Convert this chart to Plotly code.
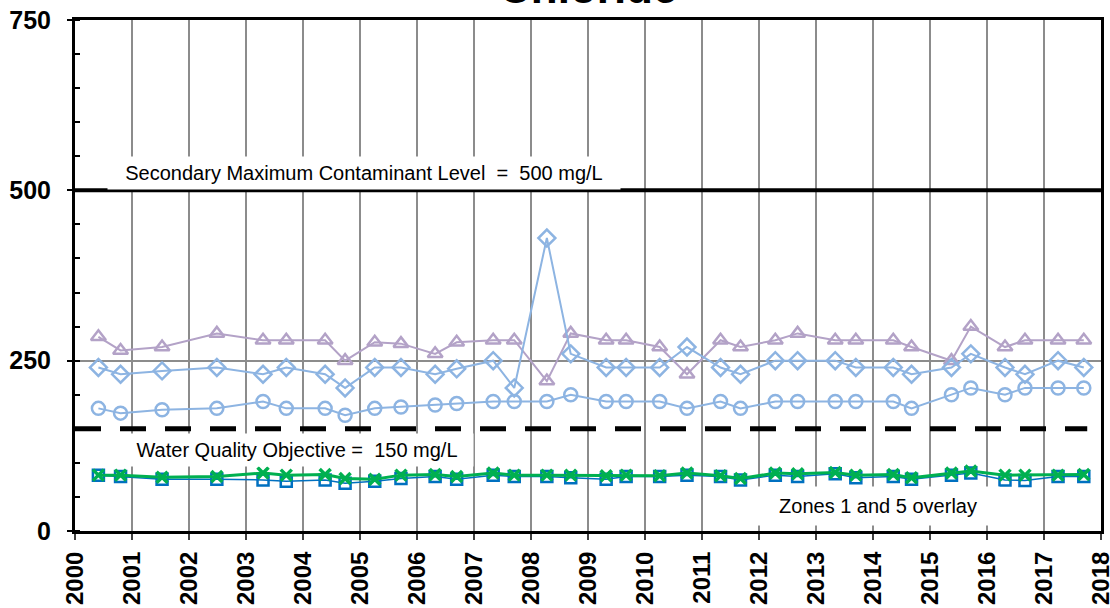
import plotly.graph_objects as go

# sample dates
dates = ["2000-05-30", "2000-10-19", "2001-07-12", "2002-06-28", "2003-04-20", "2003-09-16",
         "2004-05-22", "2004-09-27", "2005-04-05", "2005-09-20", "2006-04-27", "2006-09-12",
         "2007-05-04", "2007-09-16", "2008-04-12", "2008-09-12", "2009-04-27", "2009-09-02",
         "2010-04-05", "2010-09-27", "2011-04-30", "2011-09-05", "2012-04-15", "2012-09-05",
         "2013-05-04", "2013-09-13", "2014-05-11", "2014-09-05", "2015-05-19", "2015-09-20",
         "2016-04-26", "2016-09-01", "2017-04-01", "2017-09-13"]

# chloride, mg/L
triangle_vals = [285, 265, 270, 290, 280, 280, 280, 250, 277, 275, 260, 277,
                 280, 280, 220, 290, 280, 280, 270, 230, 280, 270, 280, 290,
                 280, 280, 280, 270, 250, 300, 270, 280, 280, 280]
diamond_vals = [240, 230, 235, 240, 230, 240, 230, 210, 240, 240, 230, 238,
                250, 210, 430, 260, 240, 240, 240, 270, 240, 230, 250, 250,
                250, 240, 240, 230, 240, 260, 240, 230, 250, 240]
circle_vals = [180, 173, 178, 180, 190, 180, 180, 170, 180, 182, 185, 187,
               190, 190, 190, 200, 190, 190, 190, 180, 190, 180, 190, 190,
               190, 190, 190, 180, 200, 210, 200, 210, 210, 210]
square_vals = [82, 80, 76, 76, 75, 73, 75, 70, 73, 77, 80, 76,
               82, 80, 80, 78, 76, 80, 80, 82, 80, 75, 82, 80,
               84, 78, 80, 76, 82, 85, 75, 74, 80, 80]
x_vals = [82, 82, 79, 80, 85, 82, 83, 77, 76, 82, 83, 80,
          85, 82, 82, 82, 81, 82, 81, 85, 81, 77, 85, 84,
          86, 82, 83, 78, 85, 88, 82, 82, 82, 83]

smcl = 500
wqo = 150
limit_x = ["2000-01-01", "2018-01-01"]
wqo_x = ["2000-01-01", "2017-10-05"]

font = "Arial, Liberation Sans, sans-serif"

fig = go.Figure()

fig.add_trace(go.Scatter(x=limit_x, y=[smcl, smcl], mode="lines",
                         line=dict(color="black", width=4), showlegend=False))
fig.add_trace(go.Scatter(x=wqo_x, y=[wqo, wqo], mode="lines",
                         line=dict(color="black", width=5, dash="26px,19px"), showlegend=False))

series = [
    (triangle_vals, "triangle-up-open", "#B3A2C7", 2, 13),
    (diamond_vals, "diamond-open", "#8DB4E2", 2, 13),
    (circle_vals, "circle-open", "#8DB4E2", 2, 13),
    (square_vals, "square-open", "#0070C0", 1.5, 11),
    (x_vals, "x-thin-open", "#00B050", 3, 11),
]
for vals, sym, col, lw, ms in series:
    fig.add_trace(go.Scatter(
        x=dates, y=vals, mode="lines+markers",
        line=dict(color=col, width=lw),
        marker=dict(symbol=sym, size=ms, color=col,
                    line=dict(color=col, width=3.5 if sym.startswith("x") else 2.5)),
        showlegend=False))

fig.update_layout(
    width=1110, height=608,
    margin=dict(l=75, r=9, t=20, b=77),
    paper_bgcolor="white", plot_bgcolor="white",
    font=dict(family=font, color="black"),
    xaxis=dict(type="date", range=["2000-01-01", "2018-01-01 06:00"], dtick="M12", tick0="2000-01-01",
               tickformat="%Y", tickangle=-90, ticks="outside", ticklen=6, tickwidth=2,
               tickcolor="#404040", ticklabelstandoff=2, automargin=False, ticklabeloverflow="allow",
               tickfont=dict(size=24, family=font, weight="bold"),
               showgrid=True, gridcolor="#8C8C8C", gridwidth=2,
               showline=True, linecolor="black", linewidth=3, mirror=True, zeroline=False),
    yaxis=dict(range=[0, 750], tickvals=[0, 250, 500, 750], ticks="outside", ticklen=5, tickwidth=2,
               tickcolor="black", ticklabelstandoff=11, automargin=False, ticklabeloverflow="allow",
               tickfont=dict(size=25, family=font, weight="bold"),
               minor=dict(dtick=50, ticks="inside", ticklen=5, tickwidth=1.5, tickcolor="black", showgrid=False),
               showgrid=True, gridcolor="#8C8C8C", gridwidth=2,
               showline=True, linecolor="black", linewidth=3, mirror=True, zeroline=False),
)

fig.add_annotation(text="Chloride", xref="paper", yref="paper", x=0.5, y=1.064,
                   xanchor="center", yanchor="middle", showarrow=False,
                   font=dict(size=44, family=font, weight="bold"))
fig.add_annotation(text="Secondary Maximum Contaminant Level  =  500 mg/L", xref="paper", yref="paper",
                   x=0.2817, y=0.7006, xanchor="center", yanchor="middle", showarrow=False,
                   bgcolor="white", width=510, height=30, font=dict(size=20, family=font))
fig.add_annotation(text="Water Quality Objective =  150 mg/L", xref="paper", yref="paper",
                   x=0.2164, y=0.1585, xanchor="center", yanchor="middle", showarrow=False,
                   bgcolor="white", width=350, height=30, font=dict(size=20, family=font))
fig.add_annotation(text="Zones 1 and 5 overlay", xref="paper", yref="paper",
                   x=0.7822, y=0.0489, xanchor="center", yanchor="middle", showarrow=False,
                   bgcolor="white", width=240, height=36, font=dict(size=20, family=font))

# drop the browser's default 8px body margin so the figure sits at the page corner
fig.write_html("out.html", config={"displayModeBar": False},
               post_script="document.body.style.margin='0';")
